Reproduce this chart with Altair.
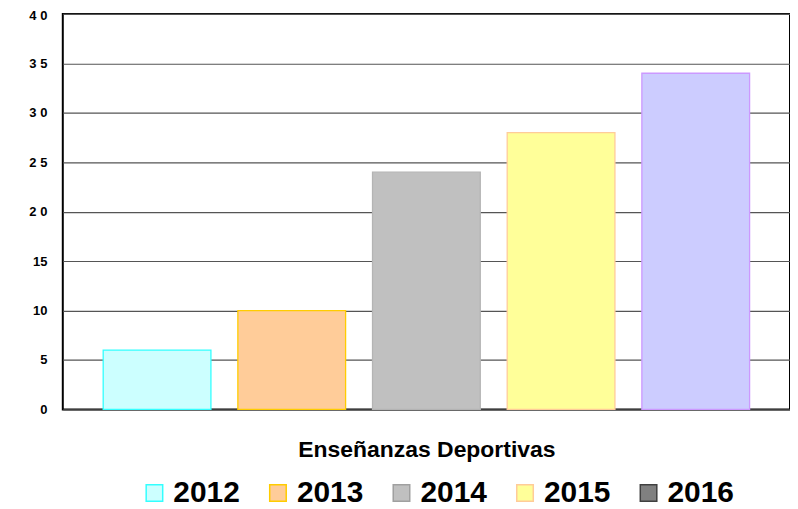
import altair as alt
import pandas as pd

# ---- data ----
years = ["2012", "2013", "2014", "2015", "2016"]
values = [6, 10, 24, 28, 34]
bar_fill = ["#CCFFFF", "#FFCC99", "#C0C0C0", "#FFFF99", "#CCCCFF"]
bar_stroke = ["#33FFFF", "#FFCC00", "#B4B4B4", "#FFCC99", "#CC99FF"]
legend_fill = ["#CCFFFF", "#FFCC99", "#C0C0C0", "#FFFF99", "#808080"]
legend_stroke = ["#33FFFF", "#FFCC00", "#A0A0A0", "#FFCC99", "#404040"]
y_ticks = [0, 5, 10, 15, 20, 25, 30, 35, 40]
x_title = "Enseñanzas Deportivas"

df = pd.DataFrame({"year": years, "value": values})

FONT = "Liberation Sans"

x_enc = alt.X(
    "year:N",
    sort=years,
    scale=alt.Scale(paddingInner=0.2, paddingOuter=0.3),
    axis=alt.Axis(
        title=x_title,
        labels=False,
        ticks=False,
        domain=False,
        titleFont=FONT,
        titleFontSize=23,
        titleFontWeight="bold",
        titleColor="black",
        titlePadding=29,
    ),
)
y_enc = alt.Y(
    "value:Q",
    scale=alt.Scale(domain=[0, 40], nice=False),
    axis=alt.Axis(
        values=y_ticks,
        title=None,
        ticks=False,
        domain=False,
        labelFont=FONT,
        labelFontSize=13,
        labelFontWeight="bold",
        labelColor="black",
        labelPadding=16,
        labelOffset={"condition": {"test": "datum.value >= 40", "value": 2}, "value": 0},
        gridColor="#555555",
        gridWidth=1.2,
        labelExpr="datum.value >= 20 ? slice(datum.label, 0, 1) + ' ' + slice(datum.label, 1) : datum.label",
    ),
)

legend = alt.Legend(
    title=None,
    orient="none",
    legendX=77,
    legendY=466,
    direction="horizontal",
    symbolType="square",
    symbolSize=275,
    symbolStrokeWidth=1.5,
    symbolOpacity=1,
    labelFont=FONT,
    labelFontSize=30,
    labelFontWeight="bold",
    labelColor="black",
    labelOffset=4,
    columnPadding=23,
    padding=0,
)

legend_layer = alt.Chart(df).mark_bar(opacity=0).encode(
    x=x_enc,
    y=y_enc,
    fill=alt.Fill("year:N", scale=alt.Scale(domain=years, range=legend_fill), legend=legend),
    stroke=alt.Stroke("year:N", scale=alt.Scale(domain=years, range=legend_stroke), legend=legend),
)

bars = alt.Chart(df).mark_bar(strokeWidth=1.3).encode(
    x=x_enc,
    y=y_enc,
    fill=alt.Fill("year:N", scale=alt.Scale(domain=years, range=bar_fill), legend=None),
    stroke=alt.Stroke("year:N", scale=alt.Scale(domain=years, range=bar_stroke), legend=None),
)

chart = (
    alt.layer(legend_layer, bars)
    .resolve_scale(fill="independent", stroke="independent")
    .properties(
        width=730,
        height=397,
        autosize=alt.AutoSizeParams(type="none"),
        padding={"left": 55, "top": 5, "right": 0, "bottom": 97},
        background="white",
    )
    .configure_view(stroke="black", strokeWidth=2)
)

chart.save("out.html", embed_options={"renderer": "svg", "actions": False})
